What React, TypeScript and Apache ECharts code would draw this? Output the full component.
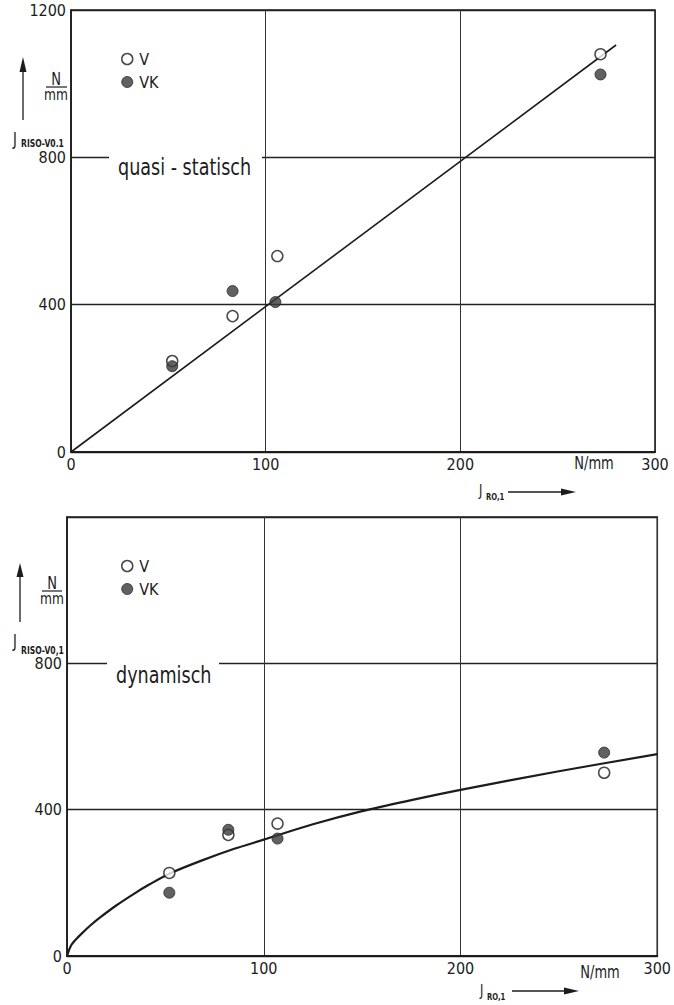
import React, { useEffect, useRef } from "react";
import * as echarts from "echarts";

// ---------- data ----------
const xTicks = [0, 100, 200, 300];
const yTicksTop = [0, 400, 800, 1200];
const yTicksBottom = [0, 400, 800];

// quasi-statisch
const topV = [[52, 247], [83, 369], [106, 532], [272, 1080]];
const topVK = [[52, 233], [83, 437], [105, 407], [272, 1025]];
const topFit = [[0, 0], [280, 1105]];

// dynamisch
const botV = [[52, 227], [82, 331], [107, 362], [273, 501]];
const botVK = [[52, 173], [82, 345], [107, 321], [273, 556]];
const botFitX = [0, 2, 5, 8, 12, 17, 25, 34, 42, 52, 68, 85, 100, 125, 150, 175, 200, 250, 300];
const botFitY = [0, 28, 48, 64, 84, 106, 138, 170, 196, 225, 260, 293, 318, 360, 396, 426, 454, 505, 552];

const INK = "#1c1c1c";
const FONT = "'Liberation Sans Narrow','DejaVu Sans Condensed','Roboto Condensed','Arial Narrow',sans-serif";

function txt(text: string, x: number, y: number, size: number, align = "left", bold = false, sx = 0.85) {
  return {
    type: "text",
    x,
    y,
    z: 20,
    scaleX: sx,
    style: {
      text,
      fill: INK,
      font: `${bold ? "bold " : ""}${size}px ${FONT}`,
      align,
      verticalAlign: "middle",
    },
  };
}
function seg(x1: number, y1: number, x2: number, y2: number, w = 1.3) {
  return { type: "line", z: 20, shape: { x1, y1, x2, y2 }, style: { stroke: INK, lineWidth: w } };
}
function poly(points: number[][]) {
  return { type: "polygon", z: 20, shape: { points }, style: { fill: INK } };
}
function whiteBox(x: number, y: number, width: number, height: number) {
  return { type: "rect", z: 15, shape: { x, y, width, height }, style: { fill: "#fff" } };
}

export default function App() {
  const ref = useRef<HTMLDivElement>(null);
  useEffect(() => {
    const chart = echarts.init(ref.current!, undefined, { renderer: "svg" });
    const axisX = (gridIndex: number) => ({
      type: "value",
      gridIndex,
      min: 0,
      max: 300,
      interval: 100,
      axisLine: { show: true, onZero: false, lineStyle: { color: INK, width: 2 } },
      axisTick: { show: false },
      splitLine: { show: true, lineStyle: { color: "#333", width: 1 } },
      axisLabel: {
        color: INK,
        fontFamily: FONT,
        fontSize: 16,
        margin: 4,
        showMaxLabel: true,
        formatter: (v: number) => (xTicks.includes(v) ? String(v) : ""),
      },
    });
    const axisY = (gridIndex: number, labels: number[]) => ({
      type: "value",
      gridIndex,
      min: 0,
      max: 1200,
      interval: 400,
      axisLine: { show: true, lineStyle: { color: INK, width: 1.5 } },
      axisTick: { show: false },
      splitLine: { show: true, lineStyle: { color: "#222", width: 1.4 } },
      axisLabel: {
        color: INK,
        fontFamily: FONT,
        fontSize: 16,
        margin: 5,
        formatter: (v: number) => (labels.includes(v) ? String(v) : ""),
      },
    });
    const openStyle = { color: "#fff", borderColor: INK, borderWidth: 1.5 };
    const fullStyle = { color: "#3a3a3a", borderColor: "#2a2a2a", borderWidth: 1 };
    const legend = (top: number) => ({
      orient: "vertical",
      left: 116,
      top,
      itemWidth: 14,
      itemHeight: 11,
      itemGap: 7,
      icon: "circle",
      selectedMode: false,
      textStyle: { color: INK, fontFamily: FONT, fontSize: 16 },
      data: [
        { name: "V", itemStyle: openStyle },
        { name: "VK", itemStyle: fullStyle },
      ],
    });
    const scatter = (name: string, data: number[][], style: any, idx: number) => ({
      name,
      type: "scatter",
      xAxisIndex: idx,
      yAxisIndex: idx,
      symbol: "circle",
      symbolSize: 11,
      itemStyle: style,
      data,
      z: 5,
    });
    const line = (data: number[][], idx: number, smooth: any) => ({
      name: "fit" + idx,
      type: "line",
      xAxisIndex: idx,
      yAxisIndex: idx,
      data,
      smooth,
      showSymbol: false,
      symbol: "none",
      lineStyle: { color: INK, width: idx === 0 ? 1.6 : 2.2 },
      z: 3,
    });
    const botFit = botFitX.map((x, i) => [x, botFitY[i]]);

    chart.setOption({
      animation: false,
      backgroundColor: "#fff",
      grid: [
        { left: 71, top: 10, width: 584, height: 442, show: true, borderColor: INK, borderWidth: 1.6, backgroundColor: "transparent" },
        { left: 67, top: 517, width: 591, height: 439, show: true, borderColor: INK, borderWidth: 1.6, backgroundColor: "transparent" },
      ],
      xAxis: [axisX(0), axisX(1)],
      yAxis: [axisY(0, yTicksTop), axisY(1, yTicksBottom)],
      legend: [legend(46), legend(553)],
      series: [
        line(topFit, 0, false),
        scatter("V", topV, openStyle, 0),
        scatter("VK", topVK, fullStyle, 0),
        line(botFit, 1, 0.3),
        scatter("V", botV, openStyle, 1),
        scatter("VK", botVK, fullStyle, 1),
      ],
      graphic: [
        // top y title
        seg(23, 120, 23, 70),
        poly([[23, 57], [19.5, 72], [26.5, 72]]),
        txt("N", 56, 79, 17, "center"),
        seg(46, 87, 67, 87, 1.2),
        txt("mm", 56, 94, 16, "center"),
        txt("J", 13, 139, 17),
        txt("RISO-V0.1", 21, 143, 10, "left", true),
        whiteBox(109, 150, 153, 14),
        txt("quasi - statisch", 118, 167, 23),
        // top x title
        txt("N/mm", 594, 463, 17, "center"),
        txt("J", 479, 491, 15),
        txt("RO,1", 486, 497, 9, "left", true),
        seg(508, 492, 562, 492),
        poly([[576, 492], [561, 488.5], [561, 495.5]]),
        // bottom y title
        seg(20, 622, 20, 575),
        poly([[20, 563], [16.5, 577], [23.5, 577]]),
        txt("N", 52, 583, 17, "center"),
        seg(42, 591, 62, 591, 1.2),
        txt("mm", 52, 598, 16, "center"),
        txt("J", 13, 641, 17),
        txt("RISO-V0,1", 21, 650, 10, "left", true),
        whiteBox(107, 656, 112, 14),
        txt("dynamisch", 116, 675, 23),
        // bottom x title
        txt("N/mm", 600, 972, 17, "center"),
        txt("J", 480, 991, 15),
        txt("RO,1", 487, 997, 9, "left", true),
        seg(512, 991, 565, 991),
        poly([[579, 991], [564, 987.5], [564, 994.5]]),
      ],
    });
    return () => chart.dispose();
  }, []);
  return (
    <div
      ref={ref}
      style={{ position: "absolute", left: 0, top: 0, width: 674, height: 1005, background: "#fff" }}
    />
  );
}
